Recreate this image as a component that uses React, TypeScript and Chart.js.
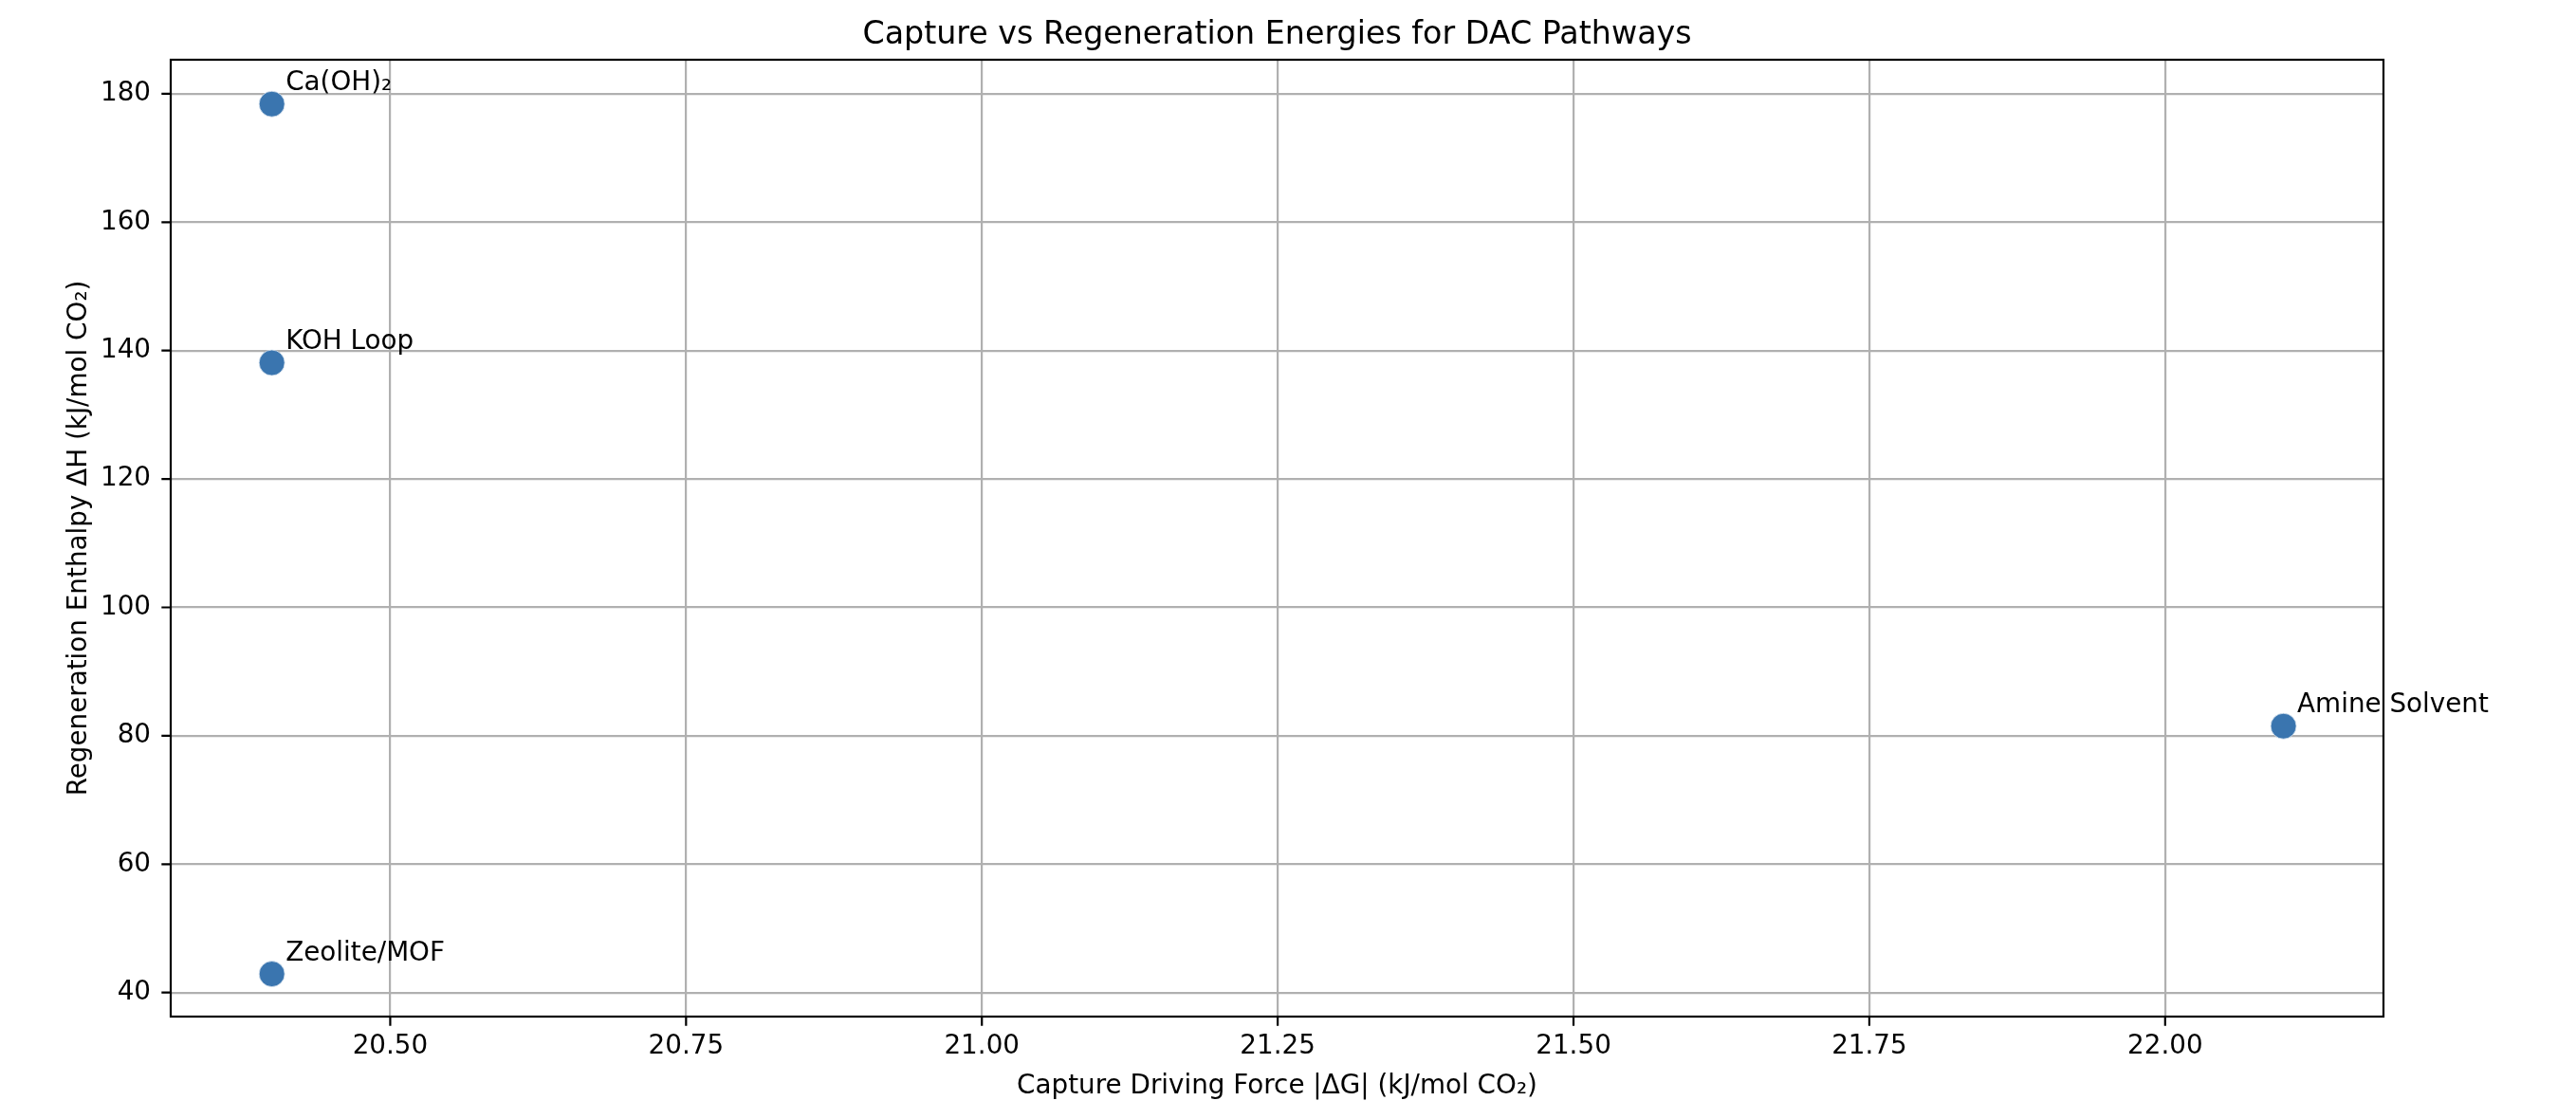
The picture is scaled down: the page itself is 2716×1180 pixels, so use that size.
import React, { useEffect, useRef } from "react";
import { Chart, registerables } from "chart.js";

Chart.register(...registerables);

const pathways = ["Ca(OH)₂", "KOH Loop", "Amine Solvent", "Zeolite/MOF"];
const captureDG = [20.4, 20.4, 22.1, 20.4];
const regenDH = [178.4, 138.1, 81.5, 42.9];

const xTicks = [20.5, 20.75, 21.0, 21.25, 21.5, 21.75, 22.0];
const yTicks = [40, 60, 80, 100, 120, 140, 160, 180];

const xLimits = [20.3145, 22.1845];
const yLimits = [36.26, 185.3];

const titleText = "Capture vs Regeneration Energies for DAC Pathways";
const xLabel = "Capture Driving Force |ΔG| (kJ/mol CO₂)";
const yLabel = "Regeneration Enthalpy ΔH (kJ/mol CO₂)";

const FONT = "'DejaVu Sans', 'Liberation Sans', sans-serif";

export default function App() {
  const ref = useRef<HTMLCanvasElement | null>(null);

  useEffect(() => {
    document.body.style.margin = "0";
    const canvas = ref.current;
    if (!canvas) return;

    const decor = {
      id: "decor",
      afterDraw(chart: any) {
        const ctx = chart.ctx as CanvasRenderingContext2D;
        const a = chart.chartArea;
        const xs = chart.scales.x;
        const ys = chart.scales.y;
        ctx.save();
        // frame
        ctx.strokeStyle = "#000";
        ctx.lineWidth = 2.2;
        ctx.strokeRect(a.left, a.top, a.right - a.left, a.bottom - a.top);
        // tick marks
        ctx.beginPath();
        for (const v of yTicks) {
          const p = ys.getPixelForValue(v);
          ctx.moveTo(a.left - 9.7, p);
          ctx.lineTo(a.left, p);
        }
        for (const v of xTicks) {
          const p = xs.getPixelForValue(v);
          ctx.moveTo(p, a.bottom);
          ctx.lineTo(p, a.bottom + 9.7);
        }
        ctx.stroke();
        // point labels
        ctx.fillStyle = "#000";
        ctx.font = `27.8px ${FONT}`;
        ctx.textAlign = "left";
        ctx.textBaseline = "alphabetic";
        const meta = chart.getDatasetMeta(0);
        meta.data.forEach((el: any, i: number) => {
          ctx.fillText(pathways[i], el.x + 14.5, el.y - 14.3);
        });
        // title
        ctx.textAlign = "center";
        ctx.font = `33.3px ${FONT}`;
        ctx.fillText(titleText, (a.left + a.right) / 2, 46);
        // x label
        ctx.font = `27.8px ${FONT}`;
        ctx.fillText(xLabel, (a.left + a.right) / 2, 1152.7);
        // y label
        ctx.translate(91, (a.top + a.bottom) / 2);
        ctx.rotate(-Math.PI / 2);
        ctx.fillText(yLabel, 0, 0);
        ctx.restore();
      },
    };

    const chart = new Chart(canvas, {
      type: "scatter",
      data: {
        datasets: [
          {
            label: "Pathways",
            data: captureDG.map((x, i) => ({ x, y: regenDH[i] })),
            backgroundColor: "#3a75af",
            borderColor: "rgba(220,230,240,0.8)",
            borderWidth: 1,
            pointRadius: 13.5,
            pointHoverRadius: 13.5,
          },
        ],
      },
      options: {
        responsive: false,
        animation: false,
        events: [],
        layout: { padding: { left: 0, top: 63, right: 203, bottom: 0 } },
        plugins: {
          legend: { display: false },
          title: { display: false },
          tooltip: { enabled: false },
        },
        scales: {
          x: {
            type: "linear",
            min: xLimits[0],
            max: xLimits[1],
            afterBuildTicks: (s: any) => {
              s.ticks = xTicks.map((v) => ({ value: v }));
            },
            afterFit: (s: any) => {
              s.height = 108;
            },
            ticks: {
              callback: (v: any) => Number(v).toFixed(2),
              font: { family: FONT, size: 27.8 },
              color: "#000",
              padding: 15,
              maxRotation: 0,
              autoSkip: false,
            },
            grid: { color: "#b0b0b0", lineWidth: 2.2, drawTicks: false },
            border: { display: false },
          },
          y: {
            type: "linear",
            min: yLimits[0],
            max: yLimits[1],
            afterBuildTicks: (s: any) => {
              s.ticks = yTicks.map((v) => ({ value: v }));
            },
            afterFit: (s: any) => {
              s.width = 180;
            },
            ticks: {
              callback: (v: any) => String(v),
              font: { family: FONT, size: 27.8 },
              color: "#000",
              padding: 21,
              autoSkip: false,
            },
            grid: { color: "#b0b0b0", lineWidth: 2.2, drawTicks: false },
            border: { display: false },
          },
        },
      },
      plugins: [decor],
    });

    return () => chart.destroy();
  }, []);

  return <canvas ref={ref} width={2716} height={1180} style={{ display: "block" }} />;
}
